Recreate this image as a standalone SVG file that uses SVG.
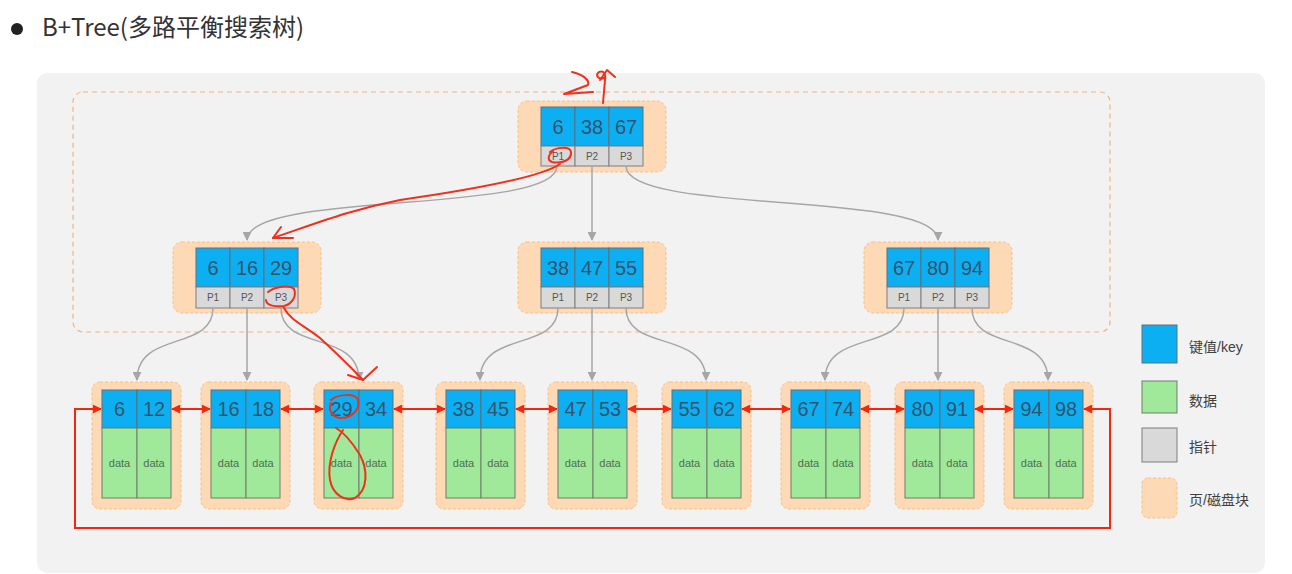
<svg xmlns="http://www.w3.org/2000/svg" width="1292" height="574" viewBox="0 0 1292 574">
<defs>
<style>
.t{font-family:"Noto Sans CJK SC","Noto Sans",sans-serif}
.page{fill:#fdd9b5;stroke:#f7c08a;stroke-width:1;stroke-dasharray:3 2}
.key{fill:#0cb0f2;stroke:#5f6f7c;stroke-width:1}
.ptr{fill:#d9d9d9;stroke:#7f7f7f;stroke-width:1}
.dat{fill:#a0e99a;stroke:#6f7f6f;stroke-width:1}
.kt{font-family:"Liberation Sans",sans-serif;font-size:20px;fill:#33536d;text-anchor:middle}
.pt{font-family:"Liberation Sans",sans-serif;font-size:10px;fill:#555;text-anchor:middle}
.dt{font-family:"Liberation Sans",sans-serif;font-size:11px;fill:#4f6f55;text-anchor:middle}
.g{fill:none;stroke:#a6a6a6;stroke-width:1.5}
.r{fill:none;stroke:#f5260f;stroke-width:2}
.h{fill:none;stroke:#f0301c;stroke-width:2;stroke-linecap:round;stroke-linejoin:round}
.lg{font-family:"Liberation Sans","Noto Sans CJK SC",sans-serif;font-size:14px;fill:#404040}
</style>
<marker id="ga" viewBox="0 0 10 10" refX="9" refY="5" markerWidth="9" markerHeight="9" markerUnits="userSpaceOnUse" orient="auto"><path d="M0,0 L10,5 L0,10 z" fill="#a6a6a6"/></marker>
<marker id="ra" viewBox="0 0 10 10" refX="9" refY="5" markerWidth="10" markerHeight="9" markerUnits="userSpaceOnUse" orient="auto-start-reverse"><path d="M0,0 L10,5 L0,10 z" fill="#f5260f"/></marker>
</defs>
<rect x="0" y="0" width="1292" height="574" fill="#ffffff"/>
<circle cx="17" cy="29" r="6" fill="#222"/>
<text class="t" x="42" y="36" font-size="24" fill="#333">B+Tree(多路平衡搜索树)</text>
<rect x="37" y="73" width="1228" height="500" rx="10" fill="#f2f2f2"/>
<rect x="73" y="92" width="1037" height="240" rx="10" fill="none" stroke="#f4b183" stroke-width="1.2" stroke-dasharray="5 4"/>

<g id="root">
<rect class="page" x="518" y="101" width="148" height="71" rx="9"/>
<rect class="key" x="541" y="107" width="34" height="39"/><rect class="key" x="575" y="107" width="34" height="39"/><rect class="key" x="609" y="107" width="34" height="39"/>
<rect class="ptr" x="541" y="146" width="34" height="20"/><rect class="ptr" x="575" y="146" width="34" height="20"/><rect class="ptr" x="609" y="146" width="34" height="20"/>
<text class="kt" x="558" y="134">6</text><text class="kt" x="592" y="134">38</text><text class="kt" x="626" y="134">67</text>
<text class="pt" x="558" y="160">P1</text><text class="pt" x="592" y="160">P2</text><text class="pt" x="626" y="160">P3</text>
</g>

<g id="mid-left">
<rect class="page" x="173" y="242" width="148" height="71" rx="9"/>
<rect class="key" x="196" y="248" width="34" height="39"/><rect class="key" x="230" y="248" width="34" height="39"/><rect class="key" x="264" y="248" width="34" height="39"/>
<rect class="ptr" x="196" y="287" width="34" height="21"/><rect class="ptr" x="230" y="287" width="34" height="21"/><rect class="ptr" x="264" y="287" width="34" height="21"/>
<text class="kt" x="213" y="275">6</text><text class="kt" x="247" y="275">16</text><text class="kt" x="281" y="275">29</text>
<text class="pt" x="213" y="301">P1</text><text class="pt" x="247" y="301">P2</text><text class="pt" x="281" y="301">P3</text>
</g>

<g id="mid-center">
<rect class="page" x="518" y="242" width="148" height="71" rx="9"/>
<rect class="key" x="541" y="248" width="34" height="39"/><rect class="key" x="575" y="248" width="34" height="39"/><rect class="key" x="609" y="248" width="34" height="39"/>
<rect class="ptr" x="541" y="287" width="34" height="21"/><rect class="ptr" x="575" y="287" width="34" height="21"/><rect class="ptr" x="609" y="287" width="34" height="21"/>
<text class="kt" x="558" y="275">38</text><text class="kt" x="592" y="275">47</text><text class="kt" x="626" y="275">55</text>
<text class="pt" x="558" y="301">P1</text><text class="pt" x="592" y="301">P2</text><text class="pt" x="626" y="301">P3</text>
</g>

<g id="mid-right">
<rect class="page" x="864" y="242" width="148" height="71" rx="9"/>
<rect class="key" x="887" y="248" width="34" height="39"/><rect class="key" x="921" y="248" width="34" height="39"/><rect class="key" x="955" y="248" width="34" height="39"/>
<rect class="ptr" x="887" y="287" width="34" height="21"/><rect class="ptr" x="921" y="287" width="34" height="21"/><rect class="ptr" x="955" y="287" width="34" height="21"/>
<text class="kt" x="904" y="275">67</text><text class="kt" x="938" y="275">80</text><text class="kt" x="972" y="275">94</text>
<text class="pt" x="904" y="301">P1</text><text class="pt" x="938" y="301">P2</text><text class="pt" x="972" y="301">P3</text>
</g>

<g id="leaf1"><rect class="page" x="92" y="382" width="89" height="127" rx="8"/>
<rect class="key" x="102" y="390" width="35" height="38"/><rect class="key" x="137" y="390" width="34" height="38"/>
<rect class="dat" x="102" y="428" width="35" height="70"/><rect class="dat" x="137" y="428" width="34" height="70"/>
<text class="kt" x="119.5" y="416">6</text><text class="kt" x="154" y="416">12</text>
<text class="dt" x="119.5" y="467">data</text><text class="dt" x="154" y="467">data</text></g>

<g id="leaf2"><rect class="page" x="201" y="382" width="89" height="127" rx="8"/>
<rect class="key" x="211" y="390" width="35" height="38"/><rect class="key" x="246" y="390" width="34" height="38"/>
<rect class="dat" x="211" y="428" width="35" height="70"/><rect class="dat" x="246" y="428" width="34" height="70"/>
<text class="kt" x="228.5" y="416">16</text><text class="kt" x="263" y="416">18</text>
<text class="dt" x="228.5" y="467">data</text><text class="dt" x="263" y="467">data</text></g>

<g id="leaf3"><rect class="page" x="314" y="382" width="89" height="127" rx="8"/>
<rect class="key" x="324" y="390" width="35" height="38"/><rect class="key" x="359" y="390" width="34" height="38"/>
<rect class="dat" x="324" y="428" width="35" height="70"/><rect class="dat" x="359" y="428" width="34" height="70"/>
<text class="kt" x="341.5" y="416">29</text><text class="kt" x="376" y="416">34</text>
<text class="dt" x="341.5" y="467">data</text><text class="dt" x="376" y="467">data</text></g>

<g id="leaf4"><rect class="page" x="436" y="382" width="89" height="127" rx="8"/>
<rect class="key" x="446" y="390" width="35" height="38"/><rect class="key" x="481" y="390" width="34" height="38"/>
<rect class="dat" x="446" y="428" width="35" height="70"/><rect class="dat" x="481" y="428" width="34" height="70"/>
<text class="kt" x="463.5" y="416">38</text><text class="kt" x="498" y="416">45</text>
<text class="dt" x="463.5" y="467">data</text><text class="dt" x="498" y="467">data</text></g>

<g id="leaf5"><rect class="page" x="548" y="382" width="89" height="127" rx="8"/>
<rect class="key" x="558" y="390" width="35" height="38"/><rect class="key" x="593" y="390" width="34" height="38"/>
<rect class="dat" x="558" y="428" width="35" height="70"/><rect class="dat" x="593" y="428" width="34" height="70"/>
<text class="kt" x="575.5" y="416">47</text><text class="kt" x="610" y="416">53</text>
<text class="dt" x="575.5" y="467">data</text><text class="dt" x="610" y="467">data</text></g>

<g id="leaf6"><rect class="page" x="662" y="382" width="89" height="127" rx="8"/>
<rect class="key" x="672" y="390" width="35" height="38"/><rect class="key" x="707" y="390" width="34" height="38"/>
<rect class="dat" x="672" y="428" width="35" height="70"/><rect class="dat" x="707" y="428" width="34" height="70"/>
<text class="kt" x="689.5" y="416">55</text><text class="kt" x="724" y="416">62</text>
<text class="dt" x="689.5" y="467">data</text><text class="dt" x="724" y="467">data</text></g>

<g id="leaf7"><rect class="page" x="781" y="382" width="89" height="127" rx="8"/>
<rect class="key" x="791" y="390" width="35" height="38"/><rect class="key" x="826" y="390" width="34" height="38"/>
<rect class="dat" x="791" y="428" width="35" height="70"/><rect class="dat" x="826" y="428" width="34" height="70"/>
<text class="kt" x="808.5" y="416">67</text><text class="kt" x="843" y="416">74</text>
<text class="dt" x="808.5" y="467">data</text><text class="dt" x="843" y="467">data</text></g>

<g id="leaf8"><rect class="page" x="895" y="382" width="89" height="127" rx="8"/>
<rect class="key" x="905" y="390" width="35" height="38"/><rect class="key" x="940" y="390" width="34" height="38"/>
<rect class="dat" x="905" y="428" width="35" height="70"/><rect class="dat" x="940" y="428" width="34" height="70"/>
<text class="kt" x="922.5" y="416">80</text><text class="kt" x="957" y="416">91</text>
<text class="dt" x="922.5" y="467">data</text><text class="dt" x="957" y="467">data</text></g>

<g id="leaf9"><rect class="page" x="1004" y="382" width="89" height="127" rx="8"/>
<rect class="key" x="1014" y="390" width="35" height="38"/><rect class="key" x="1049" y="390" width="34" height="38"/>
<rect class="dat" x="1014" y="428" width="35" height="70"/><rect class="dat" x="1049" y="428" width="34" height="70"/>
<text class="kt" x="1031.5" y="416">94</text><text class="kt" x="1066" y="416">98</text>
<text class="dt" x="1031.5" y="467">data</text><text class="dt" x="1066" y="467">data</text></g>

<g id="connectors">
<path class="g" d="M557,166 C557,215 247,190 247,240" marker-end="url(#ga)"/>
<path class="g" d="M592,166 L592,240" marker-end="url(#ga)"/>
<path class="g" d="M626,166 C626,215 938,190 938,240" marker-end="url(#ga)"/>
<path class="g" d="M213,308 C213,352 137,330 137,380" marker-end="url(#ga)"/>
<path class="g" d="M247,308 L247,380" marker-end="url(#ga)"/>
<path class="g" d="M281,308 C281,352 359,330 359,380" marker-end="url(#ga)"/>
<path class="g" d="M558,308 C558,352 480,330 480,380" marker-end="url(#ga)"/>
<path class="g" d="M592,308 L592,380" marker-end="url(#ga)"/>
<path class="g" d="M626,308 C626,352 706,330 706,380" marker-end="url(#ga)"/>
<path class="g" d="M904,308 C904,352 825,330 825,380" marker-end="url(#ga)"/>
<path class="g" d="M938,308 L938,380" marker-end="url(#ga)"/>
<path class="g" d="M972,308 C972,352 1048,330 1048,380" marker-end="url(#ga)"/>
<path class="r" d="M172,409 L210,409" marker-start="url(#ra)" marker-end="url(#ra)"/>
<path class="r" d="M281,409 L323,409" marker-start="url(#ra)" marker-end="url(#ra)"/>
<path class="r" d="M394,409 L445,409" marker-start="url(#ra)" marker-end="url(#ra)"/>
<path class="r" d="M516,409 L557,409" marker-start="url(#ra)" marker-end="url(#ra)"/>
<path class="r" d="M628,409 L671,409" marker-start="url(#ra)" marker-end="url(#ra)"/>
<path class="r" d="M742,409 L790,409" marker-start="url(#ra)" marker-end="url(#ra)"/>
<path class="r" d="M861,409 L904,409" marker-start="url(#ra)" marker-end="url(#ra)"/>
<path class="r" d="M975,409 L1013,409" marker-start="url(#ra)" marker-end="url(#ra)"/>
<path class="r" d="M101,409 L75,409 L75,528 L1110,528 L1110,409 L1084,409" marker-start="url(#ra)" marker-end="url(#ra)"/>
</g>

<g id="legend">
<rect class="key" x="1142" y="325" width="35" height="38"/>
<text class="lg" x="1189" y="352">键值/key</text>
<rect class="dat" x="1142" y="381" width="35" height="32"/>
<text class="lg" x="1189" y="406">数据</text>
<rect class="ptr" x="1142" y="428" width="35" height="34"/>
<text class="lg" x="1189" y="452">指针</text>
<rect class="page" x="1142" y="478" width="35" height="40" rx="6"/>
<text class="lg" x="1189" y="505">页/磁盘块</text>
</g>

<g id="annotations">
<path class="h" d="M572,72 C582,74 590,80 588,85 L564,94 L593,92"/>
<path class="h" d="M603,103 L605,80 C606,74 604,70 599,72 C595,75 598,80 604,78"/>
<path class="h" d="M600,80 L607,70 L615,77"/>
<path class="h" d="M550,152 C556,147 570,146 571,152 C572,160 562,164 552,162 C547,160 548,155 553,151"/>
<path class="h" d="M560,164 C540,178 470,190 400,200 C350,210 320,222 273,238"/>
<path class="h" d="M281,227 L273,238 L293,238"/>
<path class="h" d="M268,292 C275,286 290,285 294,289 C297,296 292,304 284,306 C276,307 266,306 266,300"/>
<path class="h" d="M284,308 C290,320 305,326 320,338 C335,352 350,366 363,380"/>
<path class="h" d="M348,375 L363,380 L377,367"/>
<path class="h" d="M331,400 C337,394 356,393 358,400 C360,410 352,418 340,418 C332,417 328,410 331,403"/>
<path class="h" d="M343,430 C335,442 327,462 330,480 C333,495 345,502 355,498 C368,490 368,470 360,455 C352,442 345,433 336,428"/>
</g>
</svg>
